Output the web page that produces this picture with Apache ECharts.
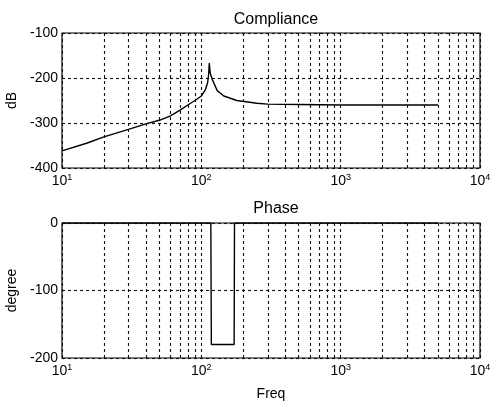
<!DOCTYPE html>
<html>
<head>
<meta charset="utf-8">
<script src="https://cdn.jsdelivr.net/npm/echarts@6/dist/echarts.min.js"></script>
<style>
html,body{margin:0;padding:0;background:#fff;}
#c{width:494px;height:404px;}
</style>
</head>
<body>
<div id="c"></div>
<script>
// Compliance (top plot)
const compFreq = [10, 15, 20, 30, 40, 50, 60, 70, 80, 90, 100, 107, 111, 113, 114, 116, 120, 130, 145, 180, 250, 300, 500, 1000, 2000, 5000];
const compDb   = [-362, -345, -331, -314, -302, -294, -284, -272, -260, -250, -240, -226, -210, -190, -167, -190, -204, -228, -240, -250, -256, -258, -259, -260, -260, -260];
// Phase (bottom plot)
const phaseFreq = [10, 117, 117.5, 118, 172, 172.5, 173, 5000];
const phaseDeg  = [0, 0, -90, -180, -180, -90, 0, 0];
// Minor vertical grid lines (2..9 x each decade)
const minorFreq = [20,30,40,50,60,70,80,90,200,300,400,500,600,700,800,900,2000,3000,4000,5000,6000,7000,8000,9000];
const xMin = 10, xMax = 10000;

const font = 'Liberation Sans, Arial, sans-serif';
const dash = [3, 3];
const gridColor = '#111';

function xAxisCfg(idx, name) {
  return {
    type: 'log', logBase: 10, gridIndex: idx, min: xMin, max: xMax,
    name: name || '', nameLocation: 'middle', nameGap: 29,
    nameTextStyle: {fontFamily: font, fontSize: 14, color: '#000'},
    axisLine: {show: false},
    axisTick: {show: false},
    splitLine: {show: true, lineStyle: {color: gridColor, type: dash, width: 1.1}},
    axisLabel: {
      margin: 5,
      formatter: v => '{b|10}{s|' + Math.round(Math.log10(v)) + '}',
      rich: {
        b: {fontFamily: font, fontSize: 14, color: '#000'},
        s: {fontFamily: font, fontSize: 9, color: '#000', padding: [0, 0, 8, 0]}
      }
    }
  };
}
function yAxisCfg(idx, min, max, name) {
  return {
    type: 'value', gridIndex: idx, min: min, max: max, interval: 100,
    name: name, nameLocation: 'middle', nameGap: 42, nameRotate: 90,
    nameTextStyle: {fontFamily: font, fontSize: 14, color: '#000'},
    axisLine: {show: false},
    axisTick: {show: false},
    splitLine: {show: true, lineStyle: {color: gridColor, type: dash, width: 1.1}},
    axisLabel: {fontFamily: font, fontSize: 14, color: '#000', margin: 4}
  };
}
function minorMarks() {
  return {
    silent: true, symbol: ['none', 'none'], label: {show: false},
    lineStyle: {color: gridColor, type: dash, width: 1.1},
    data: minorFreq.map(f => ({xAxis: f}))
  };
}

const chart = echarts.init(document.getElementById('c'), null, {renderer: 'canvas'});
chart.setOption({
  backgroundColor: '#fff',
  animation: false,
  title: [
    {text: 'Compliance', left: 271, top: 7, textAlign: 'center',
     textStyle: {fontFamily: font, fontSize: 16, fontWeight: 'normal', color: '#000'}},
    {text: 'Phase', left: 271, top: 196, textAlign: 'center',
     textStyle: {fontFamily: font, fontSize: 16, fontWeight: 'normal', color: '#000'}}
  ],
  grid: [
    {left: 62, top: 33, width: 418, height: 135, show: true, borderColor: '#000', borderWidth: 1.2, backgroundColor: 'transparent', containLabel: false, outerBoundsMode: 'none'},
    {left: 62, top: 223, width: 418, height: 135, show: true, borderColor: '#000', borderWidth: 1.2, backgroundColor: 'transparent', containLabel: false, outerBoundsMode: 'none'}
  ],
  xAxis: [xAxisCfg(0), xAxisCfg(1, 'Freq')],
  yAxis: [yAxisCfg(0, -400, -100, 'dB'), yAxisCfg(1, -200, 0, 'degree')],
  series: [
    {type: 'line', xAxisIndex: 0, yAxisIndex: 0, symbol: 'none', smooth: false,
     lineStyle: {color: '#000', width: 1.4},
     data: compFreq.map((f, i) => [f, compDb[i]]), markLine: minorMarks()},
    {type: 'line', xAxisIndex: 1, yAxisIndex: 1, symbol: 'none',
     lineStyle: {color: '#000', width: 1.4},
     data: phaseFreq.map((f, i) => [f, phaseDeg[i]]), markLine: minorMarks()}
  ]
});
</script>
</body>
</html>
